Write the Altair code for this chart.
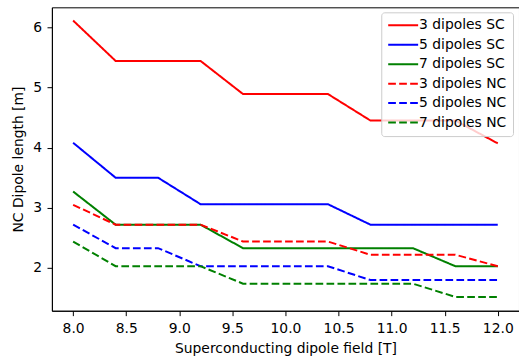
import altair as alt
import pandas as pd

x_vals = [8.0, 8.4, 8.8, 9.2, 9.6, 10.0, 10.4, 10.8, 11.2, 11.6, 12.0]
sc3 = [6.11, 5.44, 5.44, 5.44, 4.89, 4.89, 4.89, 4.45, 4.45, 4.45, 4.07]
sc5 = [4.08, 3.50, 3.50, 3.06, 3.06, 3.06, 3.06, 2.72, 2.72, 2.72, 2.72]
sc7 = [3.27, 2.72, 2.72, 2.72, 2.33, 2.33, 2.33, 2.33, 2.33, 2.03, 2.03]
nc3 = [3.05, 2.72, 2.72, 2.72, 2.44, 2.44, 2.44, 2.22, 2.22, 2.22, 2.03]
nc5 = [2.72, 2.33, 2.33, 2.03, 2.03, 2.03, 2.03, 1.80, 1.80, 1.80, 1.80]
nc7 = [2.44, 2.03, 2.03, 2.03, 1.74, 1.74, 1.74, 1.74, 1.74, 1.52, 1.52]

names = ["3 dipoles SC", "5 dipoles SC", "7 dipoles SC",
         "3 dipoles NC", "5 dipoles NC", "7 dipoles NC"]
series = [sc3, sc5, sc7, nc3, nc5, nc7]
colors = ["#ff0000", "#0000ff", "#008000", "#ff0000", "#0000ff", "#008000"]
dashes = [[1, 0], [1, 0], [1, 0], [7.7, 3.3], [7.7, 3.3], [7.7, 3.3]]

rows = []
for n, s in zip(names, series):
    for xv, yv in zip(x_vals, s):
        rows.append({"field": xv, "length": yv, "series": n})
df = pd.DataFrame(rows)

font = "DejaVu Sans"
fs = 13.9

chart = alt.Chart(df).mark_line(strokeWidth=2).encode(
    x=alt.X("field:Q",
            scale=alt.Scale(domain=[7.8, 12.2], nice=False, zero=False),
            axis=alt.Axis(values=[8.0, 8.5, 9.0, 9.5, 10.0, 10.5, 11.0, 11.5, 12.0],
                          format=".1f", title="Superconducting dipole field [T]")),
    y=alt.Y("length:Q",
            scale=alt.Scale(domain=[1.29, 6.33], nice=False, zero=False),
            axis=alt.Axis(values=[2, 3, 4, 5, 6], format="d",
                          title="NC Dipole length [m]")),
    color=alt.Color("series:N", scale=alt.Scale(domain=names, range=colors),
                    sort=names,
                    legend=alt.Legend(title=None, orient="none", legendX=330, legendY=5,
                                      fillColor="rgba(255,255,255,0.8)",
                                      strokeColor="#cccccc",
                                      cornerRadius=3, padding=6,
                                      symbolType="M-3,0L3,0", symbolStrokeWidth=2,
                                      symbolSize=100, symbolOffset=9,
                                      labelFontSize=fs,
                                      labelFont=font, labelColor="black",
                                      rowPadding=4.5, labelOffset=9)),
    strokeDash=alt.StrokeDash("series:N", scale=alt.Scale(domain=names, range=dashes),
                              sort=names, legend=None),
    detail="series:N",
).properties(
    width=468, height=304,
    padding={"left": 52, "top": 7, "right": 0, "bottom": 45},
    autosize=alt.AutoSizeParams(type="none"),
).configure_view(
    stroke="black", strokeWidth=1
).configure_legend(
    strokeWidth=1
).configure_axis(
    grid=False, domainColor="black", domainWidth=1, tickColor="black",
    tickWidth=1, tickSize=4.9, labelPadding=5.5, labelFont=font,
    labelFontSize=fs, labelColor="black", titleFont=font, titleFontSize=fs,
    titleFontWeight="normal", titleColor="black"
).configure_axisX(titlePadding=6.5).configure_axisY(titlePadding=7)

chart.save("out.html", embed_options={"renderer": "svg", "actions": False})
